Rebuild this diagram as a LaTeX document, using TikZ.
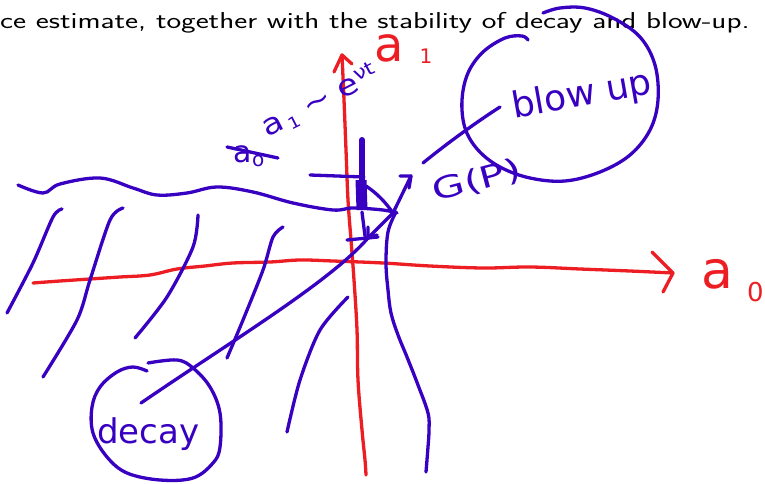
\documentclass[tikz,border=0pt]{standalone}
\usepackage{fontspec}
\newfontfamily\hand{DejaVu Sans}
\usetikzlibrary{arrows.meta}
\definecolor{penblue}{RGB}{56,0,192}
\definecolor{penred}{RGB}{236,30,36}
\begin{document}
\begin{tikzpicture}[x=1pt,y=-1pt,
  pen/.style={line width=3.3pt,line cap=round,line join=round},
  bluepen/.style={pen,draw=penblue},
  redpen/.style={pen,draw=penred},
  bluetext/.style={text=penblue,inner sep=0pt},
  redtext/.style={text=penred,inner sep=0pt},
]
\useasboundingbox (0,0) rectangle (765,484);

% caption line
\node[anchor=base west,inner sep=0pt,font=\sffamily\fontsize{23}{27}\selectfont] (caption) at (0,29)
  {\scalebox{1.35}[1]{ce estimate, together with the stability of decay and blow-up.}};

% ---------- red axes ----------
\coordinate (xstart) at (33,283);
\coordinate (xtip) at (673,273);
\draw[redpen] plot[smooth,tension=0.6] coordinates {(33,283) (60,281) (90,279) (120,277) (150,275) (177,269) (205,266) (233,263) (270,262) (300,260) (333,261) (383,263) (430,266) (483,268) (530,267) (580,269) (630,271) (673,273)};
\draw[redpen] (652,252) -- (xtip) -- (663,292);

\coordinate (ytip) at (342,55);
\draw[redpen] plot[smooth,tension=0.6] coordinates {(342,55) (344,100) (346,150) (348,200) (351,240) (354,280) (357,330) (358,380) (362,430) (365,460) (366,475)};
\draw[redpen] (334,72) -- (ytip) -- (352,64);

\node[redtext,font=\hand\fontsize{48}{48}\selectfont,anchor=base west] (aone) at (374,62)
  {a\hspace{16pt}\raisebox{-2pt}{\fontsize{20}{20}\selectfont 1}};
\node[redtext,font=\hand\fontsize{52}{52}\selectfont,anchor=base west] (azero) at (701,288)
  {a\hspace{14pt}\raisebox{-13pt}{\fontsize{26}{26}\selectfont 0}};

% ---------- blue hatching ----------
\draw[bluepen] plot[smooth] coordinates {(62,209) (53,217) (33,263) (7,313)};
\draw[bluepen] plot[smooth] coordinates {(123,208) (110,220) (90,280) (77,320) (43,377)};
\draw[bluepen] plot[smooth] coordinates {(198,215) (193,247) (167,297) (135,338)};
\draw[bluepen] plot[smooth] coordinates {(283,227) (273,237) (263,270) (243,320) (227,358)};
\draw[bluepen] plot[smooth] coordinates {(348,297) (320,330) (300,380) (287,432)};

% wavy boundary
\draw[bluepen] plot[smooth,tension=0.6] coordinates {(18,185) (43,193) (60,184) (100,178) (133,188) (157,195) (187,193) (217,187) (253,192) (293,203) (333,210) (353,208) (383,210) (397,213)};

% central marks
\coordinate (P) at (393,213);
\coordinate (Q) at (368,238);
\coordinate (Ptip) at (411,176);
\draw[bluepen] (310,175) -- (364,177);
\draw[bluepen,line width=6pt] (362,140) -- (362,180);
\draw[bluepen,line width=11pt,line cap=butt] (361,180) -- (362,210);
\draw[bluepen] (366,186) .. controls (378,194) and (386,203) .. (P);
\draw[bluepen] (362,212) -- (365,236);
\draw[bluepen] (347,240) -- (378,237);
\draw[bluepen] (P) -- (Q);
\draw[bluepen] (368,227) -- (Q) -- (377,235);
\draw[bluepen] (P) -- (Ptip);
\draw[bluepen] (400,176) -- (Ptip) -- (409,188);
\draw[bluepen] plot[smooth,tension=0.6] coordinates {(396,212) (388,232) (386,263) (388,290) (391,313) (398,335) (407,357) (418,385) (428,413) (429,430) (428,447) (426,472)};

% labels
\node[bluetext,rotate=27,font=\hand\fontsize{29}{29}\selectfont] (growth) at (320,101)
  {\scalebox{1.18}[1]{a\raisebox{-5pt}{\fontsize{16}{16}\selectfont\,1}\;∼\;e\raisebox{9pt}{\fontsize{19}{19}\selectfont νt}}};
\node[bluetext,font=\hand\fontsize{30}{30}\selectfont] (crossed) at (249,156)
  {a\raisebox{-4pt}{\fontsize{20}{20}\selectfont o}};
\draw[bluepen] (227,147) -- (278,158);

\node[bluetext,rotate=15,font=\hand\fontsize{30}{30}\selectfont] (gp) at (477,181)
  {\scalebox{1.4}[1]{G(P)}};

% blow-up circle
\draw[bluepen] plot[smooth,tension=0.6] coordinates {(543,13) (560,8) (585,8) (613,18) (640,37) (655,65) (658,100) (650,130) (630,155) (600,172) (565,181) (530,178) (500,167) (478,150) (465,128) (462,100) (468,73) (483,52) (505,38) (522,36) (528,40)};
\node[bluetext,rotate=10,font=\hand\fontsize{36}{36}\selectfont] (blowup) at (582,96) {blow up};
\coordinate (gpend) at (423,163);
\coordinate (bstart) at (500,107);
\draw[bluepen] (gpend) .. controls (445,145) and (475,123) .. (bstart);

% decay circle
\draw[bluepen] plot[smooth,tension=0.6] coordinates {(148,363) (177,360) (193,368) (210,387) (220,413) (220,447) (213,463) (193,478) (160,480) (127,473) (107,457) (93,433) (92,407) (100,387) (117,372) (133,367) (147,371)};
\node[bluetext,font=\hand\fontsize{34}{34}\selectfont,anchor=base west] (decay) at (97,443) {decay};
\coordinate (dstart) at (141,403);
\draw[bluepen] (dstart) .. controls (230,342) and (330,282) .. (Q);

\end{tikzpicture}
\end{document}
